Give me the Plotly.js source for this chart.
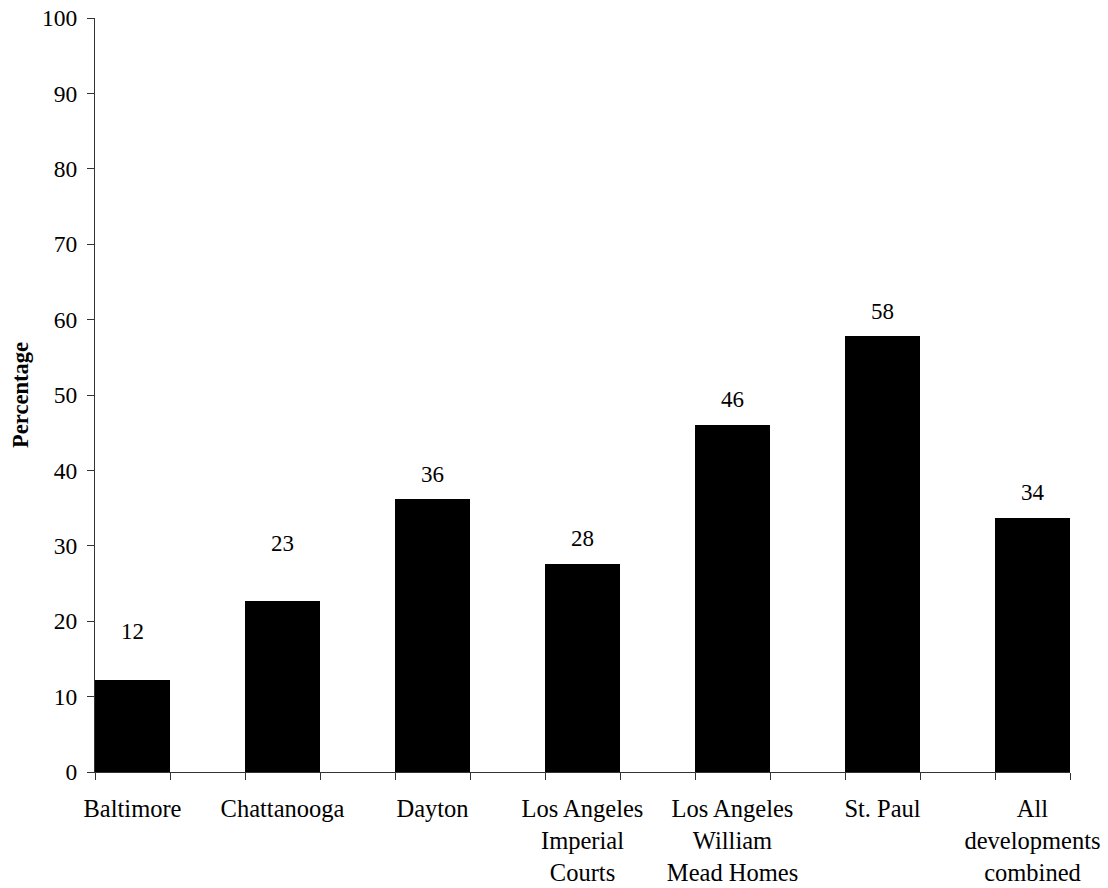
<!DOCTYPE html>
<html>
<head>
<meta charset="utf-8">
<script src="https://cdn.plot.ly/plotly-3.0.1.min.js"></script>
<style>html,body{margin:0;padding:0;background:#fff;}#chart{width:1108px;height:888px;}</style>
</head>
<body>
<div id="chart"></div>
<script>
const categories = ["Baltimore", "Chattanooga", "Dayton", "Los Angeles<br>Imperial<br>Courts", "Los Angeles<br>William<br>Mead Homes", "St. Paul", "All<br>developments<br>combined"];
const values = [12.2, 22.7, 36.2, 27.6, 46.0, 57.8, 33.7];
const valueLabels = ["12", "23", "36", "28", "46", "58", "34"];
const yTickVals = [0, 10, 20, 30, 40, 50, 60, 70, 80, 90, 100];

// style: vertical pixel offset of each value label above its bar top
const labelOffsetPx = [49, 57, 25, 25, 26, 25, 25];

const xIdx = categories.map((c, i) => i);
const FONT = "Liberation Serif, Times New Roman, serif";

const trace = {
  type: "bar",
  x: xIdx,
  y: values,
  width: 0.5,
  marker: {color: "#000000", line: {width: 0}},
  hoverinfo: "none"
};

const annotations = values.map((v, i) => ({
  x: i, y: v, xref: "x", yref: "y",
  text: valueLabels[i],
  showarrow: false,
  yanchor: "middle",
  yshift: labelOffsetPx[i],
  font: {family: FONT, size: 23, color: "#000"}
}));

const layout = {
  width: 1108, height: 888,
  margin: {l: 95, r: 38, t: 17.5, b: 115.5, pad: 0},
  paper_bgcolor: "#fff",
  plot_bgcolor: "#fff",
  showlegend: false,
  bargap: 0,
  font: {family: FONT, color: "#000"},
  xaxis: {
    range: [-0.25, 6.25],
    tickmode: "array",
    tickvals: xIdx,
    ticktext: categories,
    ticks: "",
    ticklabelstandoff: 15,
    showline: true, linecolor: "#333", linewidth: 1,
    showgrid: false, zeroline: false,
    tickfont: {family: FONT, size: 24.5, color: "#000"},
    minor: {tick0: -0.25, dtick: 0.5, ticks: "outside", ticklen: 7, tickcolor: "#333", tickwidth: 1, showgrid: false},
    fixedrange: true
  },
  yaxis: {
    range: [0, 100],
    tickmode: "array",
    tickvals: yTickVals,
    ticktext: yTickVals.map(String),
    ticks: "outside", ticklen: 7, tickcolor: "#333", tickwidth: 1,
    ticklabelstandoff: 5,
    showline: true, linecolor: "#333", linewidth: 1,
    showgrid: false, zeroline: false,
    tickfont: {family: FONT, size: 23.5, color: "#000"},
    title: {text: "<b>Percentage</b>", font: {family: FONT, size: 22.5, color: "#000"}, standoff: 7},
    fixedrange: true
  },
  annotations: annotations
};

Plotly.newPlot("chart", [trace], layout, {displayModeBar: false, staticPlot: true});
</script>
</body>
</html>
